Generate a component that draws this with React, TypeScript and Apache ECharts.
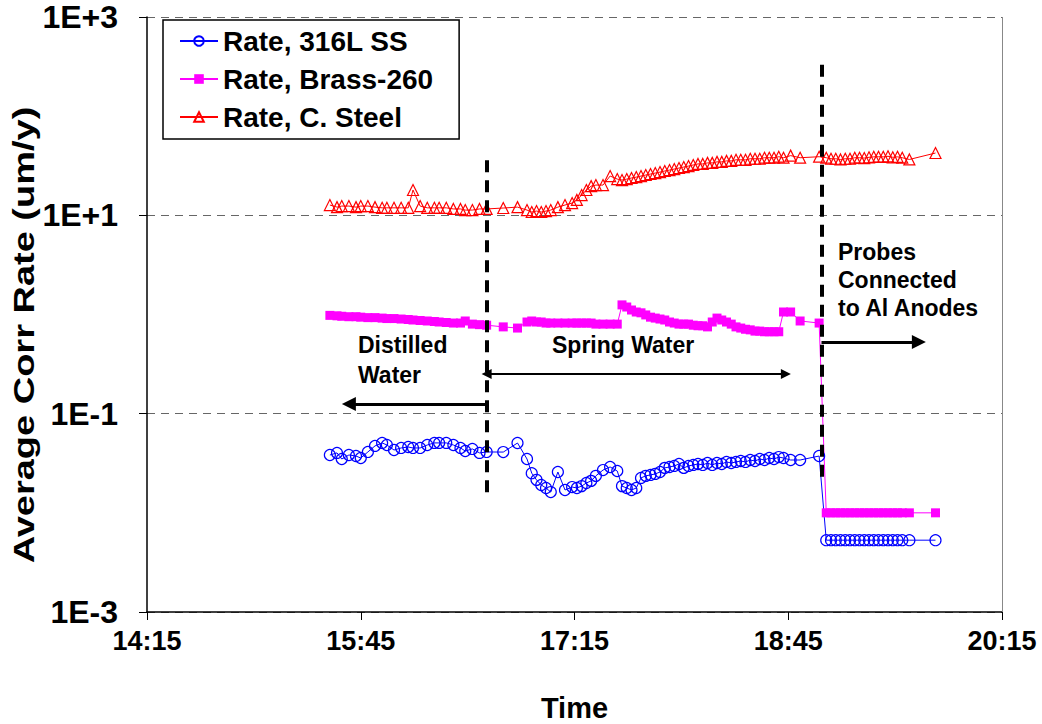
import React, { useEffect, useRef } from "react";
import * as echarts from "echarts";

// ---- time stamps (HH:MM) for each phase ----
const timesDistilled = ["15:32","15:35","15:37","15:40","15:43","15:45","15:48","15:51","15:54","15:56","15:59","16:02","16:05","16:07","16:10","16:13","16:16","16:18","16:21","16:24","16:27","16:29","16:32","16:35","16:38"];
const timesSpring = ["16:45","16:51","16:55","16:57","16:59","17:01","17:03","17:05","17:08","17:11","17:14","17:16","17:18","17:20","17:22","17:24","17:27","17:30","17:33","17:35","17:37","17:39","17:41","17:43","17:45","17:47","17:49","17:51","17:53","17:55","17:57","17:59","18:01","18:03","18:05","18:07","18:09","18:11","18:13","18:15","18:17","18:19","18:21","18:23","18:25","18:27","18:29","18:31","18:33","18:35","18:37","18:39","18:41","18:43","18:46","18:50","18:58"];
const timesAnodes = ["19:01","19:03","19:05","19:07","19:09","19:11","19:13","19:15","19:17","19:19","19:21","19:23","19:25","19:27","19:29","19:31","19:33","19:36","19:47"];

// ---- Rate, 316L SS (um/y) ----
const ssDistilled = [0.0383,0.0402,0.0349,0.0383,0.0374,0.0357,0.0411,0.0473,0.0507,0.0483,0.0430,0.0451,0.0461,0.0451,0.0451,0.0483,0.0507,0.0507,0.0507,0.0483,0.0451,0.0420,0.0441,0.0402,0.0411];
const ssSpring = [0.0410,0.0506,0.0349,0.0251,0.0215,0.0191,0.0178,0.0162,0.0258,0.0170,0.0182,0.0178,0.0186,0.0200,0.0210,0.0236,0.0270,0.0290,0.0264,0.0186,0.0178,0.0170,0.0178,0.0225,0.0236,0.0241,0.0247,0.0258,0.0284,0.0290,0.0297,0.0311,0.0284,0.0297,0.0304,0.0311,0.0304,0.0318,0.0304,0.0318,0.0311,0.0326,0.0318,0.0326,0.0333,0.0326,0.0341,0.0333,0.0349,0.0341,0.0357,0.0349,0.0365,0.0357,0.0341,0.0341,0.0374];
const ssAnodes = [0.0053,0.0053,0.0053,0.0053,0.0053,0.0053,0.0053,0.0053,0.0053,0.0053,0.0053,0.0053,0.0053,0.0053,0.0053,0.0053,0.0053,0.0053,0.0053];

// ---- Rate, Brass-260 ----
const brassDistilled = [0.98,0.97,0.96,0.95,0.95,0.94,0.93,0.93,0.92,0.91,0.91,0.90,0.89,0.88,0.87,0.86,0.85,0.84,0.83,0.82,0.82,0.86,0.80,0.79,0.78];
const brassSpring = [0.75,0.73,0.84,0.86,0.84,0.84,0.82,0.82,0.82,0.82,0.82,0.82,0.82,0.82,0.82,0.80,0.80,0.80,0.80,1.25,1.19,1.11,1.06,1.04,0.99,0.94,0.92,0.90,0.88,0.84,0.82,0.80,0.80,0.80,0.78,0.77,0.77,0.75,0.84,0.92,0.88,0.84,0.80,0.75,0.73,0.71,0.70,0.68,0.68,0.67,0.67,0.67,0.67,1.06,1.06,0.86,0.82];
const brassAnodes = [0.010,0.010,0.010,0.010,0.010,0.010,0.010,0.010,0.010,0.010,0.010,0.010,0.010,0.010,0.010,0.010,0.010,0.010,0.010];

// ---- Rate, C. Steel ----
const steelDistilled = [12.7,12.1,12.4,12.4,12.1,12.4,12.4,12.1,11.9,11.9,11.9,11.9,11.9,18.0,12.4,11.9,11.9,11.9,11.9,11.6,11.6,11.3,11.3,11.6,11.6];
const steelSpring = [11.85,12.1,11.3,10.8,11.05,10.8,11.05,11.3,12.1,12.7,13.3,14.3,16.0,18.0,19.7,20.2,20.2,24.9,23.2,22.7,23.2,23.8,24.3,24.9,25.5,26.1,26.7,27.3,28.0,28.6,29.3,30.0,30.7,31.4,32.2,33.0,33.0,33.8,33.8,34.6,34.6,35.4,35.4,36.3,36.3,36.3,37.2,37.2,37.2,38.1,38.1,38.1,39.0,38.1,40.0,38.1,39.0];
const steelAnodes = [38.1,37.2,37.2,36.6,37.2,37.2,38.1,38.1,37.8,38.5,38.9,39.0,38.9,39.4,38.5,38.9,38.1,36.6,42.5];

// ---- axis ----
const axisStart = "14:15";
const axisEnd = "20:15";
const axisStepMin = 90;
const yMin = 0.001;
const yMax = 1000;

// ---- annotations (time, value) ----
const phaseLine1 = { t: "16:38", from: 36, to: 0.0151 };
const phaseLine2 = { t: "18:59", from: 330, to: 0.0214 };
const distilledArrow = { from: "16:38", to: "15:40", v: 0.125 };
const springArrow = { from: "16:38", to: "18:44", v: 0.251 };
const probesArrow = { from: "18:59", to: "19:40", v: 0.528 };

const FONT = "'Liberation Sans', Arial, Helvetica, sans-serif";

const hm = (t: string) => {
  const [h, m] = t.split(":").map(Number);
  return h * 60 + m;
};
const START = hm(axisStart);
const toX = (t: string) => hm(t) - START;

const build = (times: string[][], vals: number[][]) => {
  const out: number[][] = [];
  times.forEach((ts, k) => ts.forEach((t, i) => out.push([toX(t), vals[k][i]])));
  return out;
};

export default function App() {
  const ref = useRef<HTMLDivElement>(null);
  useEffect(() => {
    if (!ref.current) return;
    const chart = echarts.init(ref.current, undefined, { renderer: "svg" });
    const allTimes = [timesDistilled, timesSpring, timesAnodes];
    const ssData = build(allTimes, [ssDistilled, ssSpring, ssAnodes]);
    const brassData = build(allTimes, [brassDistilled, brassSpring, brassAnodes]);
    const steelData = build(allTimes, [steelDistilled, steelSpring, steelAnodes]);

    const arrowLine = (a: { from: string; to: string; v: number }, w: number, sym: string[], size: number) => [
      { coord: [toX(a.from), a.v], symbol: sym[0], symbolSize: size, lineStyle: { color: "#000", width: w, type: "solid" } },
      { coord: [toX(a.to), a.v], symbol: sym[1], symbolSize: size },
    ];

    const option: any = {
      animation: false,
      backgroundColor: "#fff",
      textStyle: { fontFamily: FONT },
      grid: { left: 147, right: 40, top: 17, bottom: 112, outerBoundsMode: "none" },
      xAxis: {
        type: "value",
        min: 0,
        max: hm(axisEnd) - START,
        interval: axisStepMin,
        name: "Time",
        nameLocation: "middle",
        nameGap: 81,
        nameTextStyle: { fontSize: 29, fontWeight: "bold", color: "#000", fontFamily: FONT },
        axisLine: { lineStyle: { color: "#000", width: 1.5 } },
        axisTick: { show: true, length: 8, lineStyle: { color: "#000", width: 1 } },
        axisLabel: {
          margin: 15,
          fontSize: 27,
          fontWeight: "bold",
          color: "#000",
          fontFamily: FONT,
          formatter: (v: number) => {
            const t = START + v;
            return `${Math.floor(t / 60)}:${String(t % 60).padStart(2, "0")}`;
          },
        },
        splitLine: { show: false },
      },
      yAxis: {
        type: "log",
        logBase: 10,
        min: yMin,
        max: yMax,
        interval: 2,
        axisLine: { show: true, lineStyle: { color: "#000", width: 1.5 } },
        axisTick: { show: true, length: 8, lineStyle: { color: "#000" } },
        minorTick: { show: false },
        axisLabel: {
          margin: 29,
          fontSize: 32,
          fontWeight: "bold",
          color: "#000",
          fontFamily: FONT,
          formatter: (v: number) => {
            const e = Math.round(Math.log10(v));
            return `1E${e >= 0 ? "+" : ""}${e}`;
          },
        },
        splitLine: { show: true, lineStyle: { color: "#666", width: 1, type: [8, 6] } },
      },
      legend: {
        data: ["Rate, 316L SS", "Rate, Brass-260", "Rate, C. Steel"],
        orient: "vertical",
        left: 163,
        top: 20,
        backgroundColor: "#fff",
        borderColor: "#000",
        borderWidth: 1.5,
        borderRadius: 0,
        padding: [7, 26, 8, 16],
        itemGap: 10,
        itemWidth: 38,
        itemHeight: 12,
        textStyle: { fontSize: 28, fontWeight: "bold", color: "#000", fontFamily: FONT },
      },
      graphic: [
        {
          type: "text",
          x: 24,
          y: 335,
          rotation: Math.PI / 2,
          scaleY: 0.76,
          style: { text: "Average Corr Rate (um/y)", font: `bold 38px ${FONT}`, fill: "#000", textAlign: "center", textVerticalAlign: "middle" },
        },
        {
          type: "text",
          x: 358,
          y: 330,
          style: { text: "Distilled\nWater", font: `bold 23px ${FONT}`, lineHeight: 30, fill: "#000", textAlign: "left", textVerticalAlign: "top" },
        },
        {
          type: "text",
          x: 552,
          y: 330,
          style: { text: "Spring Water", font: `bold 23px ${FONT}`, lineHeight: 30, fill: "#000", textAlign: "left", textVerticalAlign: "top" },
        },
        {
          type: "text",
          x: 838,
          y: 238,
          style: { text: "Probes\nConnected\nto Al Anodes", font: `bold 23px ${FONT}`, lineHeight: 28, fill: "#000", textAlign: "left", textVerticalAlign: "top" },
        },
      ],
      series: [
        {
          name: "Rate, 316L SS",
          type: "line",
          data: ssData,
          symbol: "circle",
          symbolSize: 11,
          showAllSymbol: true,
          z: 3,
          itemStyle: { color: "rgba(255,255,255,0)", borderColor: "#0000ff", borderWidth: 1.2 },
          lineStyle: { color: "#0000ff", width: 1 },
        },
        {
          name: "Rate, Brass-260",
          type: "line",
          data: brassData,
          symbol: "rect",
          symbolSize: 9,
          showAllSymbol: true,
          z: 3,
          itemStyle: { color: "#ff00ff", borderColor: "#ff00ff", borderWidth: 0 },
          lineStyle: { color: "#ff00ff", width: 1 },
        },
        {
          name: "Rate, C. Steel",
          type: "line",
          data: steelData,
          symbol: "triangle",
          symbolSize: 11,
          showAllSymbol: true,
          z: 3,
          itemStyle: { color: "rgba(255,255,255,0)", borderColor: "#ff0000", borderWidth: 1.2 },
          lineStyle: { color: "#ff0000", width: 1 },
        },
        {
          name: "annotations",
          type: "line",
          data: [],
          z: 4,
          markLine: {
            silent: true,
            animation: false,
            symbol: ["none", "none"],
            label: { show: false },
            emphasis: { disabled: true },
            data: [
              [
                { coord: [toX(phaseLine1.t), phaseLine1.from], symbol: "none", lineStyle: { color: "#000", width: 4, type: [12, 8] } },
                { coord: [toX(phaseLine1.t), phaseLine1.to], symbol: "none" },
              ],
              [
                { coord: [toX(phaseLine2.t), phaseLine2.from], symbol: "none", lineStyle: { color: "#000", width: 4, type: [12, 8] } },
                { coord: [toX(phaseLine2.t), phaseLine2.to], symbol: "none" },
              ],
              arrowLine(distilledArrow, 3, ["none", "triangle"], 14),
              arrowLine(springArrow, 2, ["triangle", "triangle"], 10),
              arrowLine(probesArrow, 3, ["none", "triangle"], 14),
              { xAxis: hm(axisEnd) - START, symbol: "none", lineStyle: { color: "#888", width: 1, type: "solid" } },
            ],
          },
        },
      ],
    };
    chart.setOption(option);
    return () => chart.dispose();
  }, []);
  return <div ref={ref} style={{ position: "fixed", left: 0, top: 0, width: 1042, height: 724 }} />;
}
